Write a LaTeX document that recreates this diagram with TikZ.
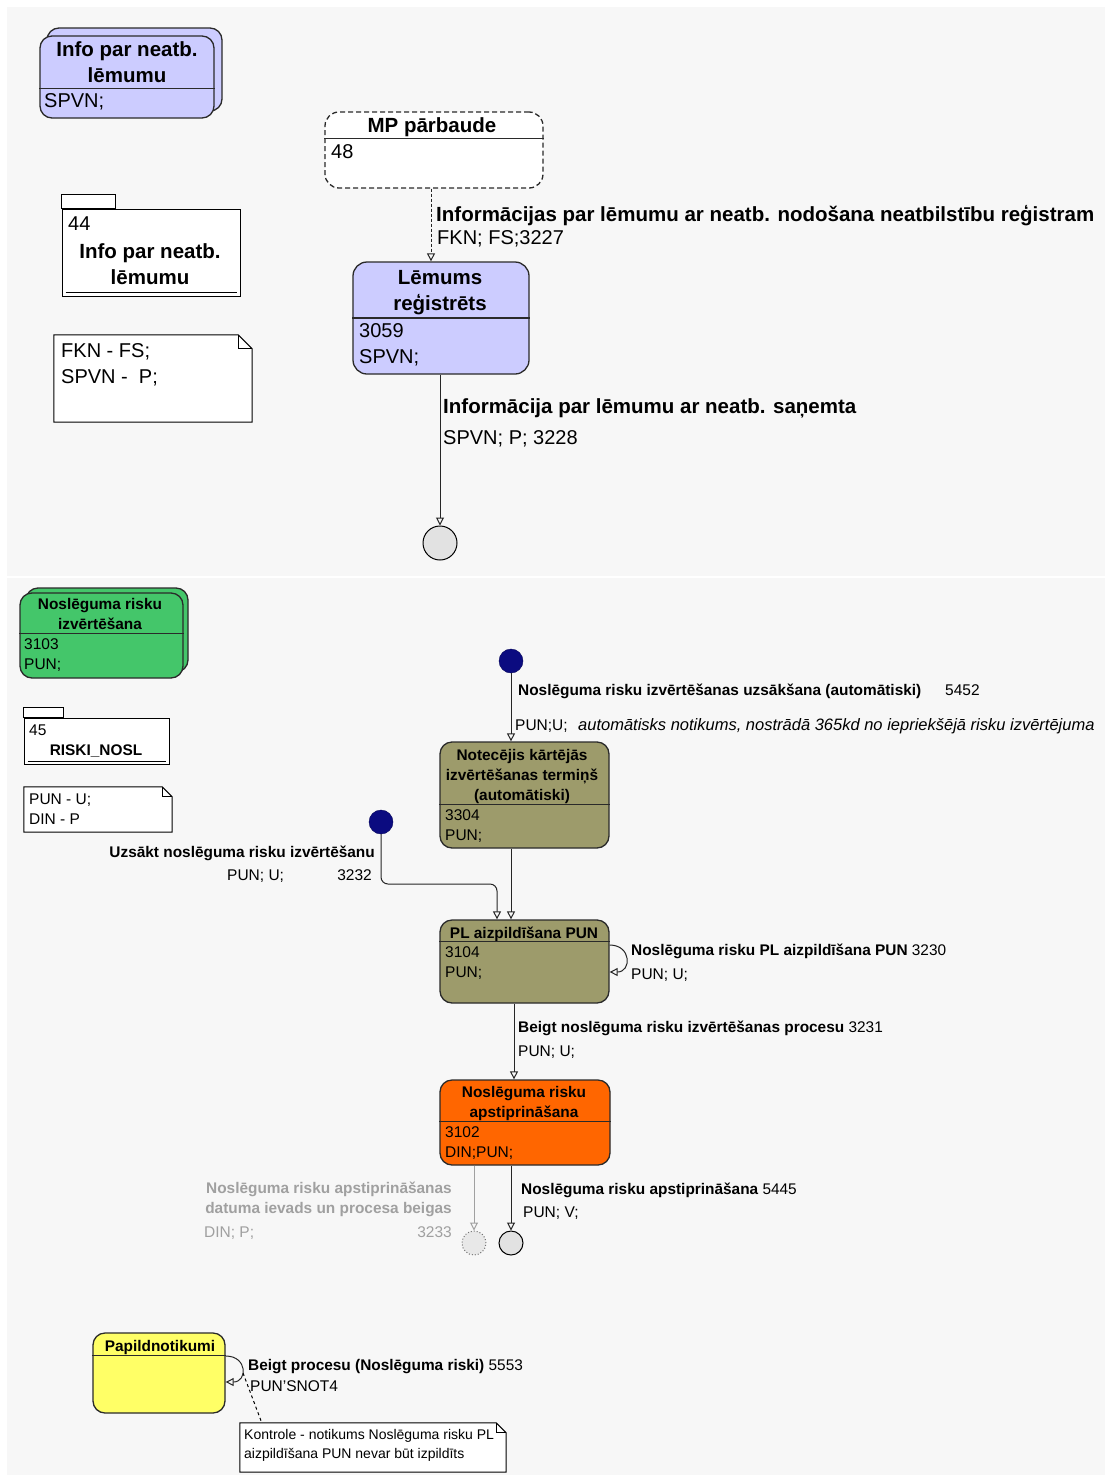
\documentclass[tikz,border=0pt]{standalone}
\usepackage{fontspec}
\setmainfont{Liberation Sans}
\usetikzlibrary{arrows.meta,calc}
\definecolor{panel}{HTML}{F7F7F7}
\definecolor{frame}{HTML}{2A2A2A}
\definecolor{lav}{HTML}{CCCCFF}
\definecolor{grn}{HTML}{44C66A}
\definecolor{olive}{HTML}{9D9B6B}
\definecolor{orng}{HTML}{FF6600}
\definecolor{yell}{HTML}{FFFF66}
\definecolor{navy}{HTML}{0B0B80}
\definecolor{endgrey}{HTML}{E2E2E2}
\definecolor{faded}{HTML}{A0A0A0}

\begin{document}
\begin{tikzpicture}[x=1pt,y=-1pt,
  upf/.style={font=\fontsize{20}{26}\selectfont},
  upb/.style={font=\bfseries\fontsize{20.5}{26}\selectfont},
  lof/.style={font=\fontsize{15.5}{20}\selectfont},
  lob/.style={font=\bfseries\fontsize{15.4}{20}\selectfont},
  txt/.style={inner sep=0pt,align=left},
  ttl/.style={inner sep=0pt,align=center,anchor=north},
  statebox/.style={draw=frame,line width=1.3pt,rounded corners=12pt,inner sep=0pt},
  sep/.style={draw=frame,line width=1.2pt},
  pkg/.style={draw=black,line width=1pt,fill=white,inner sep=0pt},
  notebox/.style={draw=black,line width=1pt,fill=white},
  startdot/.style={circle,fill=navy,draw=navy!70!black,minimum size=24pt,inner sep=0pt},
  enddot/.style={circle,fill=endgrey,draw=black,line width=1pt,inner sep=0pt},
  arr/.style={-{Triangle[open,length=8pt,width=8pt]},line width=1pt,draw=black!85}]

  % background
  \fill[white] (0,0) rectangle (1105,1475);
  \fill[panel] (7,7) rectangle (1105,576);
  \fill[panel] (7,578) rectangle (1105,1475);
  \useasboundingbox (0,0) rectangle (1105,1475);

  % upper part
  \node[statebox,fill=lav,minimum width=175pt,minimum height=83pt] (infoback) at (134.5,69.5) {};
  \node[statebox,fill=lav,minimum width=174pt,minimum height=82pt] (info) at (127,77) {};
  \node[ttl,upb] (infot) at (127,41.6) {Info par neatb.\\lēmumu};
  \draw[sep] ([yshift=-53pt]info.north west) -- ([yshift=-53pt]info.north east);
  \node[txt,upf,anchor=north west] (infob) at (44,93.8) {SPVN;};

  \node[statebox,dashed,dash pattern=on 5pt off 3pt,fill=white,minimum width=218pt,minimum height=76pt,rounded corners=14pt] (mp) at (434,150) {};
  \node[ttl,upb] (mpt) at (432,117.6) {MP pārbaude};
  \draw[sep] ([yshift=-27pt]mp.north west) -- ([yshift=-27pt]mp.north east);
  \node[txt,upf,anchor=north west] (mpb) at (331,144.8) {48};

  \node[pkg,minimum width=178pt,minimum height=87pt] (pk44) at (151,252.5) {};
  \draw[pkg] (pk44.north west) rectangle ++(54,-14);
  \node[txt,upf,anchor=north west] (pk44n) at (68,216.8) {44};
  \node[ttl,upb] (pk44t) at (150,243.6) {Info par neatb.\\lēmumu};
  \draw[line width=1pt] ([xshift=4pt,yshift=4pt]pk44.south west) -- ([xshift=-4pt,yshift=4pt]pk44.south east);

  \node[minimum width=198pt,minimum height=87pt,inner sep=0pt] (n1) at (153,378.5) {};
  \draw[notebox] (n1.north west) -- ([xshift=-14pt]n1.north east) -- ([yshift=-14pt]n1.north east) -- (n1.south east) -- (n1.south west) -- cycle;
  \draw[line width=1pt] ([xshift=-14pt]n1.north east) |- ([yshift=-14pt]n1.north east);
  \node[txt,upf,anchor=north west] (n1t) at (61,343.8) {FKN - FS;\\SPVN -\ \ P;};

  \node[statebox,fill=lav,minimum width=176pt,minimum height=112pt,rounded corners=14pt] (lem) at (441,318) {};
  \node[ttl,upb] (lemt) at (440,270.6) {Lēmums\\reģistrēts};
  \draw[sep] (lem.west) -- (lem.east);
  \node[txt,upf,anchor=north west] (lemb) at (359,323.8) {3059\\SPVN;};

  \node[enddot,minimum size=34pt] (end1) at (440,543) {};

  \draw[arr,dash pattern=on 3pt off 2pt] ([xshift=-3pt]mp.south) -- ([xshift=-3pt]mp.south |- lem.north);
  \node[txt,upb,anchor=base west] (l1) at (436,221) {Informācijas par lēmumu ar neatb. nodošana neatbilstību reģistram};
  \node[txt,upf,anchor=base west] (l1b) at (437,244) {FKN; FS;3227};
  \draw[arr] (lem.south -| end1) -- (end1.north);
  \node[txt,upb,anchor=base west] (l2) at (443,413) {Informācija par lēmumu ar neatb. saņemta};
  \node[txt,upf,anchor=base west] (l2b) at (443,444) {SPVN; P; 3228};

  % lower part
  \node[statebox,fill=grn,minimum width=162pt,minimum height=84pt] (riskback) at (107,630) {};
  \node[statebox,fill=grn,minimum width=163pt,minimum height=85pt] (risk) at (101.5,635.5) {};
  \node[ttl,lob] (riskt) at (100,598.6) {Noslēguma risku\\izvērtēšana};
  \draw[sep] ([yshift=-41pt]risk.north west) -- ([yshift=-41pt]risk.north east);
  \node[txt,lof,anchor=north west] (riskb) at (24,638.4) {3103\\PUN;};

  \node[pkg,minimum width=145pt,minimum height=46pt] (pk45) at (96.5,741) {};
  \draw[pkg] (pk45.north west) rectangle ++(40,-10);
  \node[txt,lof,anchor=north west] (pk45n) at (29,724.4) {45};
  \node[ttl,lob] (pk45t) at (96,744.6) {RISKI\_NOSL};
  \draw[line width=1pt] ([xshift=4pt,yshift=3pt]pk45.south west) -- ([xshift=-4pt,yshift=3pt]pk45.south east);

  \node[minimum width=148pt,minimum height=45pt,inner sep=0pt] (n2) at (98,809.5) {};
  \draw[notebox] (n2.north west) -- ([xshift=-10pt]n2.north east) -- ([yshift=-10pt]n2.north east) -- (n2.south east) -- (n2.south west) -- cycle;
  \draw[line width=1pt] ([xshift=-10pt]n2.north east) |- ([yshift=-10pt]n2.north east);
  \node[txt,lof,anchor=north west] (n2t) at (29,793.4) {PUN - U;\\DIN - P};

  \node[startdot] (dot1) at (511,661) {};
  \node[startdot] (dot2) at (381,822) {};

  \node[statebox,fill=olive,minimum width=169pt,minimum height=106pt] (notc) at (524.5,795) {};
  \node[ttl,lob] (notct) at (522,749.6) {Notecējis kārtējās\\izvērtēšanas termiņš\\(automātiski)};
  \draw[sep] ([yshift=-63pt]notc.north west) -- ([yshift=-63pt]notc.north east);
  \node[txt,lof,anchor=north west] (notcb) at (445,809.4) {3304\\PUN;};

  \node[statebox,fill=olive,minimum width=169pt,minimum height=83pt] (pl) at (524.5,961.5) {};
  \node[ttl,lob] (plt) at (524,926.6) {PL aizpildīšana PUN};
  \draw[sep] ([yshift=-22pt]pl.north west) -- ([yshift=-22pt]pl.north east);
  \node[txt,lof,anchor=north west] (plb) at (445,946.4) {3104\\PUN;};

  \node[statebox,fill=orng,minimum width=170pt,minimum height=85pt] (apst) at (525,1122.5) {};
  \node[ttl,lob] (apstt) at (524,1086.6) {Noslēguma risku\\apstiprināšana};
  \draw[sep] ([yshift=-42pt]apst.north west) -- ([yshift=-42pt]apst.north east);
  \node[txt,lof,anchor=north west] (apstb) at (445,1126.4) {3102\\DIN;PUN;};

  \node[enddot,minimum size=24pt,draw=black!55,dotted,fill=endgrey!80] (end2) at (474,1243) {};
  \node[enddot,minimum size=24pt] (end3) at (511,1243) {};

  \node[statebox,fill=yell,minimum width=132pt,minimum height=80pt] (papild) at (159,1373) {};
  \node[ttl,lob] (papildt) at (160,1340.6) {Papildnotikumi};
  \draw[sep] ([yshift=-23pt]papild.north west) -- ([yshift=-23pt]papild.north east);

  \node[minimum width=266pt,minimum height=49pt,inner sep=0pt] (n3) at (373,1447.5) {};
  \draw[notebox] (n3.north west) -- ([xshift=-10pt]n3.north east) -- ([yshift=-10pt]n3.north east) -- (n3.south east) -- (n3.south west) -- cycle;
  \draw[line width=1pt] ([xshift=-10pt]n3.north east) |- ([yshift=-10pt]n3.north east);
  \node[txt,font=\fontsize{14}{19}\selectfont,anchor=north west] (n3t) at (244,1429) {Kontrole - notikums Noslēguma risku PL\\aizpildīšana PUN nevar būt izpildīts};

  % transitions
  \draw[arr] (dot1.south) -- (dot1.south |- notc.north);
  \node[txt,lob,anchor=base west] (l3) at (518,695.4) {Noslēguma risku izvērtēšanas uzsākšana (automātiski)};
  \node[txt,lof,anchor=base west] (l3n) at (945,695.4) {5452};
  \node[txt,lof,anchor=base west] (l3b) at (515,730.5) {PUN;U;};
  \node[txt,font=\itshape\fontsize{16.5}{20}\selectfont,anchor=base west] (l3c) at (578,730.5) {automātisks notikums, nostrādā 365kd no iepriekšējā risku izvērtējuma};

  \coordinate (bend) at (497,884);
  \draw[arr,rounded corners=7pt] (dot2.south) |- (bend) -- (bend |- pl.north);
  \node[txt,lob,anchor=base east] (l4) at (375,857.4) {Uzsākt noslēguma risku izvērtēšanu};
  \node[txt,lof,anchor=base west] (l4b) at (227,880.5) {PUN; U;};
  \node[txt,lof,anchor=base east] (l4n) at (372,880.5) {3232};

  \draw[arr] (dot1 |- notc.south) -- (dot1 |- pl.north);

  \draw[arr] ([yshift=16.5pt]pl.east) .. controls +(22,0) and +(22,0) .. ([yshift=-10.5pt]pl.east);
  \node[txt,lob,anchor=base west] (l5) at (631,955.4) {Noslēguma risku PL aizpildīšana PUN \mdseries 3230};
  \node[txt,lof,anchor=base west] (l5b) at (631,979.5) {PUN; U;};

  \draw[arr] ([xshift=-10.5pt]pl.south) -- ([xshift=-10.5pt]pl.south |- apst.north);
  \node[txt,lob,anchor=base west] (l6) at (518,1032.4) {Beigt noslēguma risku izvērtēšanas procesu \mdseries 3231};
  \node[txt,lof,anchor=base west] (l6b) at (518,1056.5) {PUN; U;};

  \draw[arr,draw=faded] (end2 |- apst.south) -- (end2.north);
  \node[txt,lob,text=faded,anchor=base east,align=right] (l7) at (452,1193.4) {Noslēguma risku apstiprināšanas};
  \node[txt,lob,text=faded,anchor=base east,align=right] (l7a) at (452,1213.4) {datuma ievads un procesa beigas};
  \node[txt,lof,text=faded,anchor=base west] (l7b) at (204,1237.5) {DIN; P;};
  \node[txt,lof,text=faded,anchor=base east] (l7n) at (452,1237.5) {3233};

  \draw[arr] (end3 |- apst.south) -- (end3.north);
  \node[txt,lob,anchor=base west] (l8) at (521,1194.4) {Noslēguma risku apstiprināšana \mdseries 5445};
  \node[txt,lof,anchor=base west] (l8b) at (523,1217.5) {PUN; V;};

  \draw[arr] ([yshift=17pt]papild.east) .. controls +(22,0) and +(22,0) .. ([yshift=-9pt]papild.east);
  \node[txt,lob,anchor=base west] (l9) at (248,1370.4) {Beigt procesu (Noslēguma riski) \mdseries 5553};
  \node[txt,lof,anchor=base west] (l9b) at (250,1391.5) {PUN'SNOT4};
  \coordinate (lp) at (243,1373);
  \draw[line width=1pt,dash pattern=on 3pt off 3pt] (lp) -- ([xshift=22pt]n3.north west);
\end{tikzpicture}
\end{document}
